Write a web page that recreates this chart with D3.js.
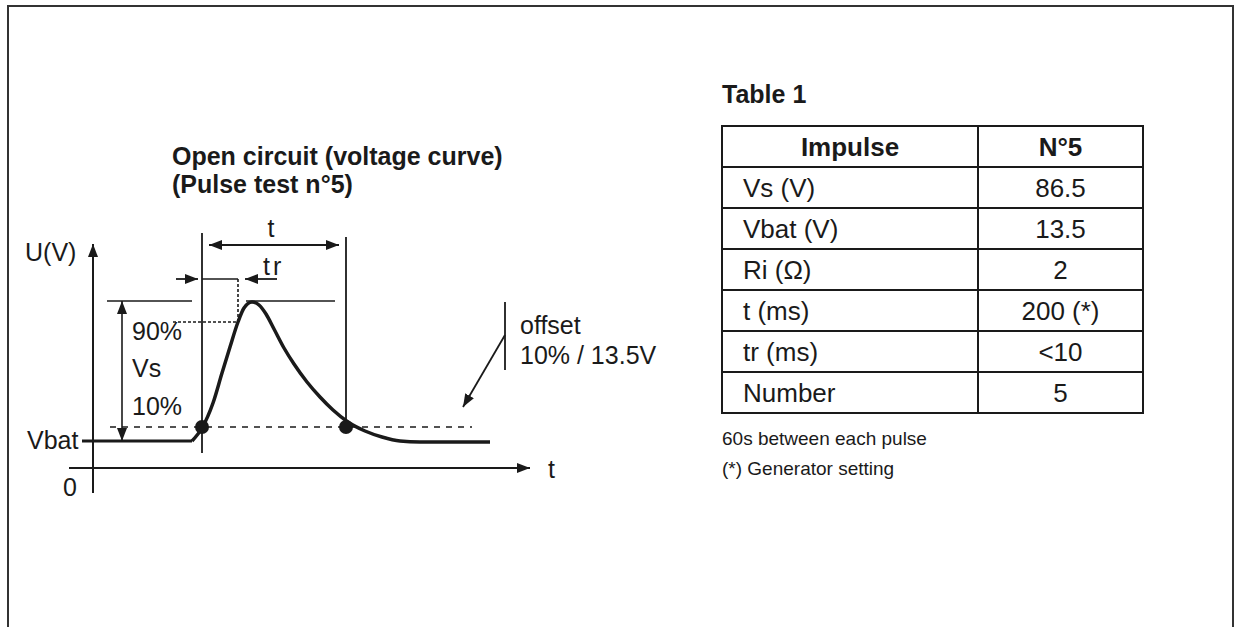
<!DOCTYPE html>
<html>
<head>
<meta charset="utf-8">
<script src="https://cdn.jsdelivr.net/npm/d3@7"></script>
<style>
  html, body { margin: 0; padding: 0; background: #fff; }
  svg { display: block; }
  text { font-family: Arial, "Liberation Sans", sans-serif; fill: #1a1a1a; }
</style>
</head>
<body>
<div id="boxPulse"></div>
<script>
// ---- data (diagram units: time along x, voltage along y) ----
var curveTime    = [9.9, 10.9, 12.0, 12.9, 13.7, 14.5, 15.1, 15.9, 16.6, 17.3, 18.1, 19.1, 20.1, 21.4, 22.7, 24.0, 25.5, 27.2, 28.9, 30.7, 32.7, 39.7];
var curveVoltage = [1.35, 2.0, 3.25, 4.75, 6.05, 7.3, 8.0, 8.3, 8.15, 7.7, 6.95, 6.0, 5.2, 4.3, 3.55, 2.9, 2.3, 1.85, 1.55, 1.35, 1.3, 1.3];

var vbatLevel = 1.35;
var peakLevel = 8.35;
var level10 = 2.05;
var level90 = 7.3;
var pulseStart = 10.9;   // 10% crossing on the rise
var pulseEnd = 25.3;     // 10% crossing on the decay
var riseEnd = 14.5;      // 90% crossing

var tableTitle = "Table 1";
var tableHeader = ["Impulse", "N°5"];
var tableLabels = ["Vs (V)", "Vbat (V)", "Ri (Ω)", "t (ms)", "tr (ms)", "Number"];
var tableValues = ["86.5", "13.5", "2", "200 (*)", "<10", "5"];
var tableNotes = ["60s between each pulse", "(*) Generator setting"];

var chartTitle = ["Open circuit (voltage curve)", "(Pulse test n°5)"];

draw();

function draw() {
    var width = 1235, height = 627;

    var svg = d3.select('#boxPulse')
        .append('svg')
        .attr('width', width)
        .attr('height', height);

    // arrow heads
    var defs = svg.append('defs');
    defs.append('marker')
        .attr('id', 'arrow')
        .attr('markerUnits', 'userSpaceOnUse')
        .attr('viewBox', '0 0 13 10')
        .attr('markerWidth', 13)
        .attr('markerHeight', 10)
        .attr('refX', 13)
        .attr('refY', 5)
        .attr('orient', 'auto-start-reverse')
        .append('path')
        .attr('d', 'M0,0 L13,5 L0,10 z')
        .style('fill', '#1a1a1a');

    // frame (no bottom edge)
    svg.append('path')
        .attr('d', `M8,${height} L8,6 L1233,6 L1233,${height}`)
        .style('fill', 'none')
        .style('stroke', '#333')
        .style('stroke-width', 2);

    // scales: 1 time unit = 10px, 1 voltage unit = 20px
    var x = d3.scaleLinear().domain([0, 44]).range([93, 533]);
    var y = d3.scaleLinear().domain([0, 10]).range([468, 268]);

    var g = svg.append('g').attr('class', 'diagram');

    function line(x1, y1, x2, y2, w, dash, arrowEnd, arrowStart) {
        var l = g.append('line')
            .attr('x1', x1).attr('y1', y1)
            .attr('x2', x2).attr('y2', y2)
            .style('stroke', '#1a1a1a')
            .style('stroke-width', w);
        if (dash) l.style('stroke-dasharray', dash);
        if (arrowEnd) l.attr('marker-end', 'url(#arrow)');
        if (arrowStart) l.attr('marker-start', 'url(#arrow)');
        return l;
    }

    function label(txt, px, py, size, anchor, weight) {
        return g.append('text')
            .attr('x', px).attr('y', py)
            .attr('text-anchor', anchor || 'start')
            .style('font-size', size + 'px')
            .style('font-weight', weight || 'normal')
            .text(txt);
    }

    // title
    chartTitle.forEach((s, i) => label(s, 172, 165 + i * 28, 25, 'start', 'bold'));

    // axes
    line(x(0), y(-1.25), x(0), y(11.2), 2, null, true);
    line(x(-2.4), y(0), x(43.7), y(0), 2.2, null, true);
    label("U(V)", 25, 261, 25);
    label("0", 63, 496, 25);
    label("t", 548, 478, 25);
    label("Vbat", 27, 449, 25);

    // Vbat baseline before the pulse
    line(x(-1.1), y(vbatLevel), x(curveTime[0]), y(vbatLevel), 3);

    // pulse curve
    var pts = curveTime.map((t, i) => [t, curveVoltage[i]]);
    g.append('path')
        .datum(pts)
        .attr('d', d3.line().x(d => x(d[0])).y(d => y(d[1])).curve(d3.curveMonotoneX))
        .style('fill', 'none')
        .style('stroke', '#1a1a1a')
        .style('stroke-width', 3.5);

    // Vs reference lines
    line(x(1.4), y(peakLevel), x(9.9), y(peakLevel), 1.6);
    line(x(15.3), y(peakLevel), x(24.2), y(peakLevel), 1.6);
    line(x(2.9), y(peakLevel), x(2.9), y(vbatLevel), 1.6, null, true, true);
    label("90%", 132, 340, 25);
    label("Vs", 132, 377, 25);
    label("10%", 132, 415, 25);

    // 10% and 90% levels
    line(x(1.7), y(level10), x(37.9), y(level10), 1.6, '6,6');
    line(x(8.0), y(level90), x(riseEnd), y(level90), 1.6, '3,2');
    line(x(riseEnd), y(level90), x(riseEnd), y(9.45), 1.6, '3,2');

    // t markers
    line(x(pulseStart), y(11.75), x(pulseStart), y(0.75), 1.8);
    line(x(pulseEnd), y(11.55), x(pulseEnd), y(level10), 1.8);
    line(x(pulseStart + 0.7), y(11.15), x(pulseEnd - 0.7), y(11.15), 1.8, null, true, true);
    label("t", 271, 237, 25, 'middle');

    // tr markers
    line(x(8.3), y(9.45), x(pulseStart - 0.4), y(9.45), 1.8, null, true);
    line(x(pulseStart), y(9.45), x(riseEnd), y(9.45), 1.6);
    line(x(18.4), y(9.45), x(15.2), y(9.45), 1.8, null, true);
    label("tr", 263, 275, 25).style('letter-spacing', '3px');

    // dots at 10% crossings
    g.selectAll('.dot')
        .data([pulseStart, pulseEnd])
        .enter().append('circle')
        .attr('class', 'dot')
        .attr('cx', d => x(d))
        .attr('cy', y(level10))
        .attr('r', 7)
        .style('fill', '#1a1a1a');

    // offset annotation
    line(x(41.2), y(8.3), x(41.2), y(4.9), 1.8);
    line(x(41.2), y(6.65), x(37.0), y(3.05), 1.8, null, true);
    label("offset", 520, 334, 25);
    label("10% / 13.5V", 520, 364, 25);

    // ---- table ----
    var t = svg.append('g').attr('class', 'table');
    var cols = [722, 978, 1143];
    var rows = d3.scaleBand().domain(d3.range(tableLabels.length + 1)).range([126, 413]);

    t.append('text')
        .attr('x', 722).attr('y', 103)
        .style('font-size', '25px')
        .style('font-weight', 'bold')
        .text(tableTitle);

    t.append('rect')
        .attr('x', cols[0]).attr('y', rows(0))
        .attr('width', cols[2] - cols[0])
        .attr('height', rows.step() * (tableLabels.length + 1))
        .style('fill', 'none')
        .style('stroke', '#1a1a1a')
        .style('stroke-width', 2);

    t.append('line')
        .attr('x1', cols[1]).attr('x2', cols[1])
        .attr('y1', rows(0)).attr('y2', rows(tableLabels.length) + rows.step())
        .style('stroke', '#1a1a1a').style('stroke-width', 2);

    t.selectAll('.rowLine')
        .data(d3.range(1, tableLabels.length + 1))
        .enter().append('line')
        .attr('class', 'rowLine')
        .attr('x1', cols[0]).attr('x2', cols[2])
        .attr('y1', d => rows(d)).attr('y2', d => rows(d))
        .style('stroke', '#1a1a1a').style('stroke-width', 2);

    var mid = i => rows(i) + rows.step() / 2 + 9.4;

    tableHeader.forEach((h, i) => {
        t.append('text')
            .attr('x', (cols[i] + cols[i + 1]) / 2)
            .attr('y', mid(0))
            .attr('text-anchor', 'middle')
            .style('font-size', '26px')
            .style('font-weight', 'bold')
            .text(h);
    });

    t.selectAll('.cellLabel')
        .data(tableLabels)
        .enter().append('text')
        .attr('class', 'cellLabel')
        .attr('x', cols[0] + 21)
        .attr('y', (d, i) => mid(i + 1))
        .style('font-size', '26px')
        .text(d => d);

    t.selectAll('.cellValue')
        .data(tableValues)
        .enter().append('text')
        .attr('class', 'cellValue')
        .attr('x', (cols[1] + cols[2]) / 2)
        .attr('y', (d, i) => mid(i + 1))
        .attr('text-anchor', 'middle')
        .style('font-size', '26px')
        .text(d => d);

    t.selectAll('.note')
        .data(tableNotes)
        .enter().append('text')
        .attr('class', 'note')
        .attr('x', 722)
        .attr('y', (d, i) => 445 + i * 30)
        .style('font-size', '19px')
        .text(d => d);
}
</script>
</body>
</html>
